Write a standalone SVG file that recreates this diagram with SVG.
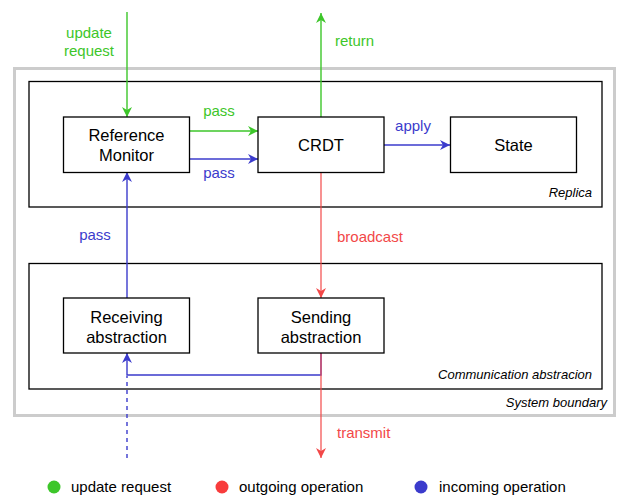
<svg xmlns="http://www.w3.org/2000/svg" width="617" height="496" viewBox="0 0 617 496">
<style>
text{font-family:"Liberation Sans",Arial,sans-serif;}
.node{fill:#fff;stroke:#000;stroke-width:1.3;}
.cont{fill:#fff;stroke:#000;stroke-width:1.3;}
.lbl{font-size:16.5px;fill:#000;text-anchor:middle;}
.it{font-size:13px;font-style:italic;fill:#000;text-anchor:end;}
.el{font-size:15px;}
.g{stroke:#3dc62a;}
.b{stroke:#3b3bcc;}
.r{stroke:#f24848;stroke-opacity:0.85;}
.ln{fill:none;stroke-width:1.4;}
.tg{fill:#3dc62a;}
.tb{fill:#3b3bcc;}
.tr{fill:#f24848;}
</style>
<defs>
<marker id="ag" viewBox="0 0 10 10" refX="10" refY="5" markerWidth="10" markerHeight="10" markerUnits="userSpaceOnUse" orient="auto"><path d="M0,0 L10,5 L0,10 L3,5 z" fill="#3dc62a"/></marker>
<marker id="ab" viewBox="0 0 10 10" refX="10" refY="5" markerWidth="10" markerHeight="10" markerUnits="userSpaceOnUse" orient="auto"><path d="M0,0 L10,5 L0,10 L3,5 z" fill="#3b3bcc"/></marker>
<marker id="ar" viewBox="0 0 10 10" refX="10" refY="5" markerWidth="10" markerHeight="10" markerUnits="userSpaceOnUse" orient="auto"><path d="M0,0 L10,5 L0,10 L3,5 z" fill="#f24848"/></marker>
</defs>
<rect width="617" height="496" fill="#fff"/>
<g id="system-boundary">
<rect x="14.5" y="68.5" width="600" height="347" fill="#fff" stroke="#cccccc" stroke-width="3"/>
<text class="it" x="607" y="407">System boundary</text>
</g>
<g id="replica">
<rect class="cont" x="29" y="81.5" width="573" height="125.5"/>
<text class="it" x="592" y="197">Replica</text>
</g>
<g id="communication-abstraction">
<rect class="cont" x="29" y="263.5" width="573" height="125.5"/>
<text class="it" x="592" y="379">Communication abstracion</text>
</g>
<g id="connectors">
<line class="ln g" x1="127" y1="12" x2="127" y2="117" marker-end="url(#ag)"/>
<line class="ln g" x1="189" y1="131" x2="258" y2="131" marker-end="url(#ag)"/>
<line class="ln b" x1="189" y1="159" x2="258" y2="159" marker-end="url(#ab)"/>
<line class="ln b" x1="384" y1="145" x2="450" y2="145" marker-end="url(#ab)"/>
<line class="ln g" x1="321" y1="117" x2="321" y2="13" marker-end="url(#ag)"/>
<line class="ln b" x1="127" y1="298" x2="127" y2="172" marker-end="url(#ab)"/>
<line class="ln r" x1="321" y1="172" x2="321" y2="298" marker-end="url(#ar)"/>
<path class="ln b" d="M321,353 V375 H127 V353" marker-end="url(#ab)"/>
<line class="ln b" x1="127" y1="458" x2="127" y2="376" stroke-dasharray="4,4"/>
<line class="ln r" x1="321" y1="353" x2="321" y2="458" marker-end="url(#ar)"/>
<text class="el tg" x="89" y="38" text-anchor="middle">update</text>
<text class="el tg" x="89" y="56" text-anchor="middle">request</text>
<text class="el tg" x="335" y="46">return</text>
<text class="el tg" x="219" y="116" text-anchor="middle">pass</text>
<text class="el tb" x="219" y="178" text-anchor="middle">pass</text>
<text class="el tb" x="413" y="131" text-anchor="middle">apply</text>
<text class="el tb" x="95" y="240" text-anchor="middle">pass</text>
<text class="el tr" x="337" y="242">broadcast</text>
<text class="el tr" x="337" y="438">transmit</text>
</g>
<g id="reference-monitor">
<rect class="node" x="63.5" y="117" width="126" height="55.5"/>
<text class="lbl" x="126.5" y="141">Reference</text>
<text class="lbl" x="126.5" y="161">Monitor</text>
</g>
<g id="crdt">
<rect class="node" x="258" y="117" width="126" height="55.5"/>
<text class="lbl" x="321" y="151">CRDT</text>
</g>
<g id="state">
<rect class="node" x="450.5" y="117" width="126" height="55.5"/>
<text class="lbl" x="513.5" y="151">State</text>
</g>
<g id="receiving-abstraction">
<rect class="node" x="63.5" y="298" width="126" height="55"/>
<text class="lbl" x="126.5" y="323">Receiving</text>
<text class="lbl" x="126.5" y="343">abstraction</text>
</g>
<g id="sending-abstraction">
<rect class="node" x="258" y="298" width="126" height="55"/>
<text class="lbl" x="321" y="323">Sending</text>
<text class="lbl" x="321" y="343">abstraction</text>
</g>
<g id="legend">
<circle cx="54" cy="487" r="6.5" fill="#3dc62a"/>
<text class="el" x="71" y="492">update request</text>
<circle cx="222" cy="487" r="6.5" fill="#f83c3c"/>
<text class="el" x="239" y="492">outgoing operation</text>
<circle cx="421" cy="487" r="6.5" fill="#3b3bcc"/>
<text class="el" x="439" y="492">incoming operation</text>
</g>
</svg>
